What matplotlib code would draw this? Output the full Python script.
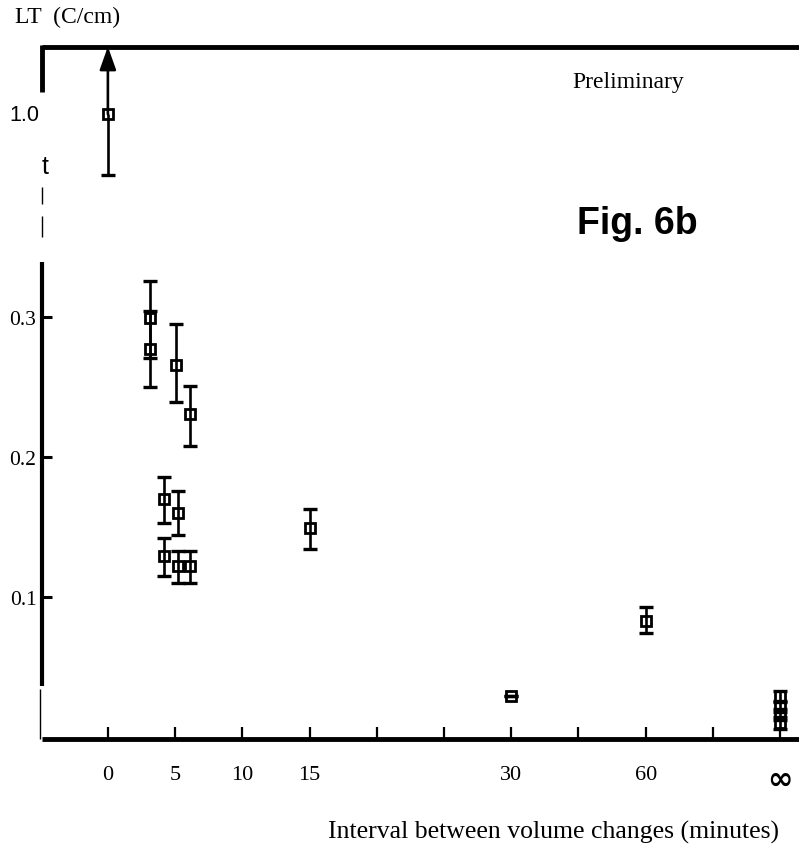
import numpy as np
import matplotlib
matplotlib.use("Agg")
import matplotlib.pyplot as plt
import matplotlib.transforms as mtransforms

plt.rcParams['font.family'] = ['Liberation Serif', 'DejaVu Serif']

# ---------------- data ----------------
INF = 90  # placeholder position (minutes scale) for the "infinity" column

interval = [0, 3.1, 3.1, 4.2, 4.2, 5.1, 5.2, 5.2, 6.1, 6.1, 15, 30, 60, INF, INF, INF, INF]
lt = [1.0, 0.299, 0.277, 0.170, 0.129, 0.266, 0.160, 0.122, 0.231, 0.122,
      0.149, 0.029, 0.083, 0.029, 0.022, 0.016, 0.010]
err_low = [0.30, 0.028, 0.027, 0.017, 0.014, 0.027, 0.016, 0.012, 0.023, 0.012,
           0.015, 0.0, 0.009, 0.004, 0.004, 0.004, 0.004]
err_high = [0.0, 0.027, 0.027, 0.016, 0.013, 0.029, 0.016, 0.011, 0.020, 0.011,
            0.014, 0.0, 0.010, 0.004, 0.004, 0.004, 0.004]

x_ticks = [0, 5, 10, 15, 20, 25, 30, 45, 60, 75, 90]
x_ticklabels = ["0", "5", "10", "15", "", "", "30", "", "60", "", "\u221e"]
y_ticks = [0.1, 0.2, 0.3]
y_ticklabels = ["0.1", "0.2", "0.3"]

# ---------------- scales (broken axes) ----------------
def fwd_x(m):
    m = np.asarray(m, dtype=float)
    return np.where(m <= 30, m / 5.0, 6.0 + (m - 30.0) / 15.0)

def inv_x(p):
    p = np.asarray(p, dtype=float)
    return np.where(p <= 6, p * 5.0, 30.0 + (p - 6.0) * 15.0)

K = 0.146
BRK = 0.35

def fwd_y(v):
    v = np.asarray(v, dtype=float)
    return np.where(v <= BRK, v, BRK + (v - BRK) * K)

def inv_y(p):
    p = np.asarray(p, dtype=float)
    return np.where(p <= BRK, p, BRK + (p - BRK) / K)

W, H = 799, 845
fig = plt.figure(figsize=(W / 100, H / 100), dpi=100)
ax = fig.add_axes([42 / W, 1 - 740 / H, 757 / W, 692.3 / H])
ax.set_xscale('function', functions=(fwd_x, inv_x))
ax.set_yscale('function', functions=(fwd_y, inv_y))
ax.set_xlim(-4.9, 94.2)
YTOP = 1.33
ax.set_ylim(-0.0015, YTOP)

for s in ax.spines.values():
    s.set_visible(False)

# custom axis lines (broken left axis)
kw = dict(transform=ax.transAxes, clip_on=False, color='black', solid_capstyle='butt')
ax.plot([0, 1], [1, 1], lw=3.5, **kw)            # top line
ax.plot([0, 1], [0, 0], lw=3.5, **kw)            # bottom axis
ax.plot([0, 0], [1.003, 0.9346], lw=3.5, **kw)   # upper left piece
ax.plot([0, 0], [0.797, 0.773], lw=1.0, **kw)
ax.plot([0, 0], [0.755, 0.725], lw=1.0, **kw)
ax.plot([0, 0], [0.689, 0.0766], lw=3.0, **kw)   # main left piece
ax.plot([-0.003, -0.003], [0.0722, 0.0], lw=1.0, **kw)
ax.text(0.004, 0.828, "t", transform=ax.transAxes, ha='center', va='center',
        fontsize=18, family='Liberation Sans')

# ticks
ax.set_xticks(x_ticks)
ax.set_xticklabels(x_ticklabels)
ax.tick_params(axis='x', direction='in', length=9, width=1.6, pad=19, labelsize=16)
ax.minorticks_off()
ax.set_yticks(y_ticks)
ax.set_yticklabels(y_ticklabels)
ax.tick_params(axis='y', direction='in', length=7, width=2.2, pad=4, labelsize=15.5)
inf_lab = ax.get_xticklabels()[-1]
inf_lab.set_fontfamily('DejaVu Sans')
inf_lab.set_fontsize(22)
inf_lab.set_fontweight('bold')

# "1.0" label on the upper (broken) part
blend = mtransforms.blended_transform_factory(ax.transAxes, ax.transData)
ax.text(-0.004, 1.0, "1.0", transform=blend, ha='right', va='center',
        fontsize=15.5, family='Liberation Sans')

# ---------------- data marks ----------------
xi = np.array(interval[1:], dtype=float)
yi = np.array(lt[1:], dtype=float)
lo = np.array(err_low[1:], dtype=float)
hi = np.array(err_high[1:], dtype=float)
ax.errorbar(xi, yi, yerr=[lo, hi], fmt='none', ecolor='black', elinewidth=1.9,
            capsize=4.8, capthick=2.4, zorder=3)
ax.plot(interval, lt, 's', ms=7.5, mfc='white', mec='black', mew=2.0, zorder=2,
        linestyle='none')

# first point: lower error bar + arrow to the top
ax.vlines(interval[0], lt[0] - err_low[0], lt[0], color='black', lw=1.9, zorder=3)
ax.plot([interval[0]], [lt[0] - err_low[0]], marker='_', ms=9.6, mew=2.4,
        color='black', zorder=3)
ax.annotate('', xy=(interval[0], YTOP), xytext=(interval[0], lt[0]),
            arrowprops=dict(arrowstyle='-|>,head_length=1.4,head_width=0.5',
                            lw=1.9, color='black', shrinkA=0, shrinkB=0),
            zorder=4)

# ---------------- texts ----------------
fig.text(15 / W, 1 - 17 / H, "LT  (C/cm)", ha='left', va='center', fontsize=17)
ax.text(0.775, 0.950, "Preliminary", transform=ax.transAxes, ha='center',
        va='center', fontsize=17)
ax.text(0.786, 0.745, "Fig. 6b", transform=ax.transAxes, ha='center',
        va='center', fontsize=27, fontweight='bold', family='Liberation Sans')
fig.text(553 / W, 1 - 832 / H, "Interval between volume changes (minutes)",
         ha='center', va='center', fontsize=18.5)

fig.savefig("out.png", dpi=100)
